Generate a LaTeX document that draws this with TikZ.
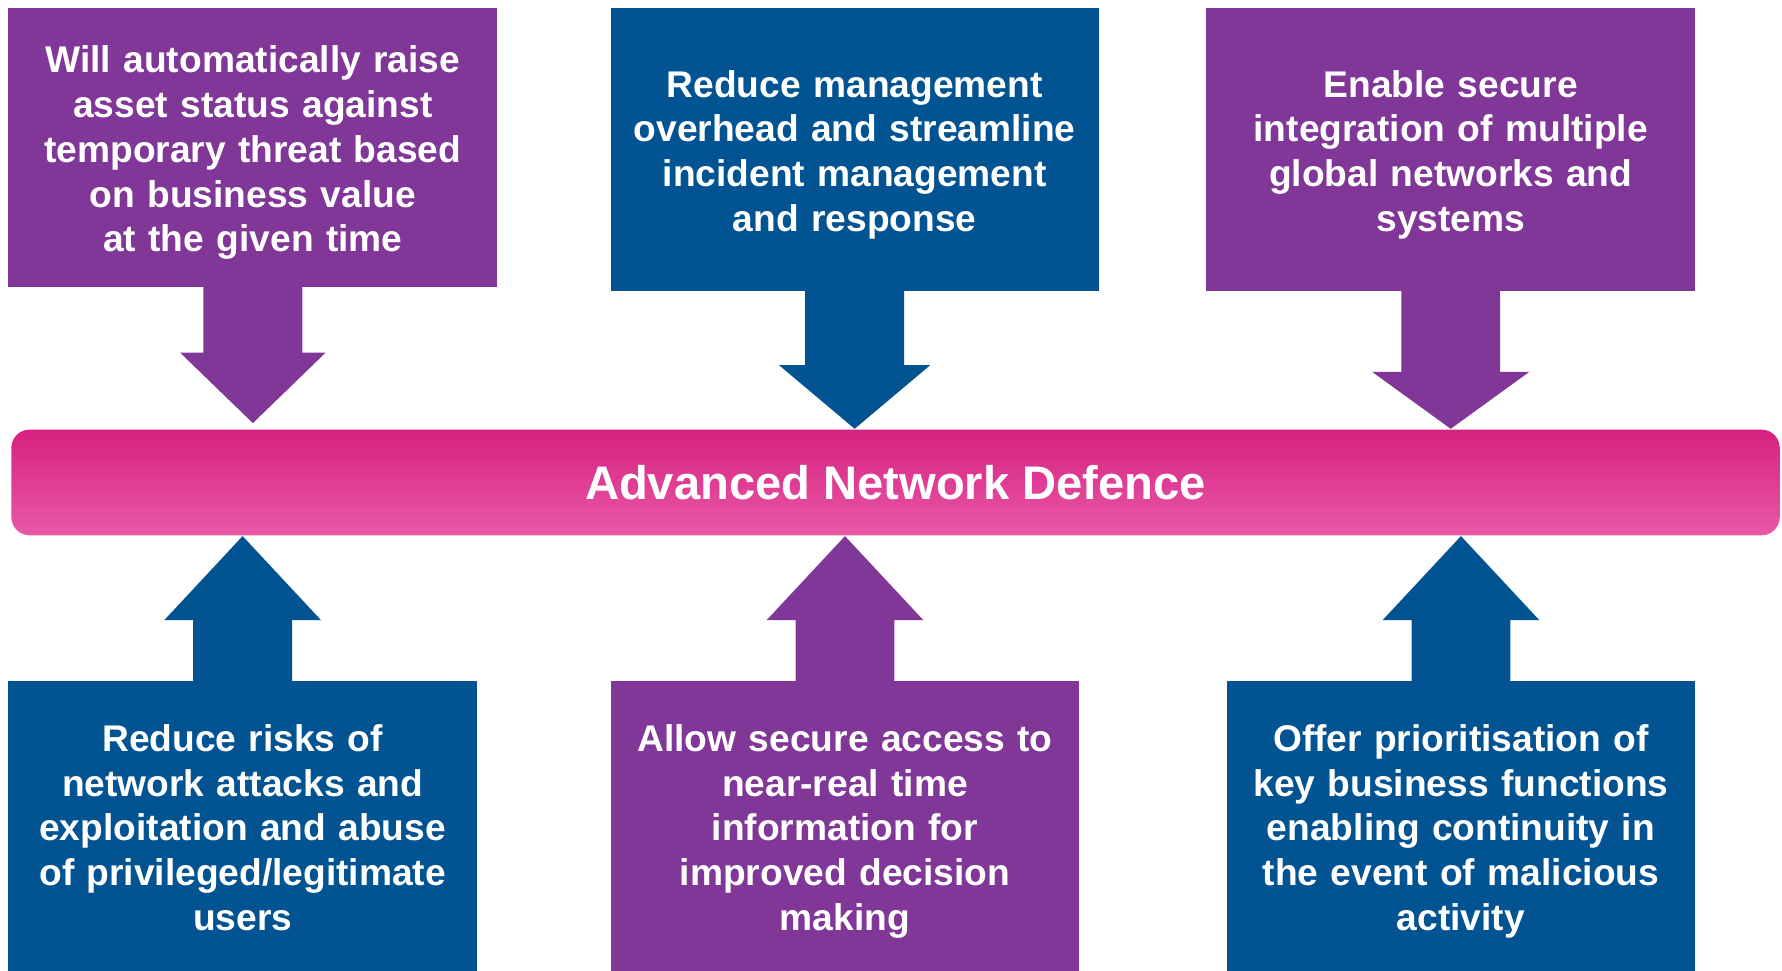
\documentclass[tikz,border=0pt]{standalone}
\usepackage{fontspec}
\setmainfont{Liberation Sans}
\usetikzlibrary{calc,positioning}

\definecolor{purp}{RGB}{128,55,152}
\definecolor{navy}{RGB}{2,83,146}
\definecolor{pinktop}{RGB}{214,33,128}
\definecolor{pinkbot}{RGB}{232,89,166}

\newcommand{\topstrut}{\rule{0pt}{10.7pt}}

% block arrow: colour, box, tip point, head length (signed), head half width
\newcommand{\blockarrow}[5]{%
  \fill[#1] let \p1=(#2), \p2=(#3) in
  ({\x1-0.435cm},{\y1}) -- ({\x1-0.435cm},{\y2+(#4)}) -- ({\x1-#5},{\y2+(#4)})
  -- ({\x1},{\y2}) -- ({\x1+#5},{\y2+(#4)}) -- ({\x1+0.435cm},{\y2+(#4)})
  -- ({\x1+0.435cm},{\y1}) -- cycle;}

\begin{document}
\begin{tikzpicture}
    \tikzstyle{box} = [text=white, align=center, inner sep=0pt,
    font=\bfseries\fontsize{9.3}{11.2}\selectfont]
    \tikzstyle{purpbox} = [box, fill=purp, draw=purp]
    \tikzstyle{navybox} = [box, fill=navy, draw=navy]

    \useasboundingbox (0,0) rectangle (15.68,-8.54);

    \node [purpbox, text width=4.29cm, minimum height=2.44cm] (asset) at (2.225,-1.30)
    {\topstrut Will automatically raise\\ asset status against\\ temporary threat based\\ on business value\\ at the given time\strut};
    \node [navybox, text width=4.28cm, minimum height=2.47cm] (overhead) at (7.52,-1.315)
    {\topstrut Reduce management\\ overhead and streamline\\ incident management\\ and response\strut};
    \node [purpbox, text width=4.29cm, minimum height=2.47cm] (integration) at (12.765,-1.315)
    {\topstrut Enable secure\\ integration of multiple\\ global networks and\\ systems\strut};

    \node [shade, top color=pinktop, bottom color=pinkbot, rounded corners=0.16cm,
    minimum width=15.56cm, minimum height=0.93cm, text=white,
    font=\bfseries\fontsize{11.8}{14}\selectfont] (defence) at (7.88,-4.245)
    {Advanced Network Defence};

    \node [navybox, text width=4.11cm, minimum height=2.54cm] (risks) at (2.135,-7.27)
    {\topstrut Reduce risks of\\ network attacks and\\ exploitation and abuse\\ of privileged/legitimate\\ users\strut};
    \node [purpbox, text width=4.11cm, minimum height=2.54cm] (access) at (7.435,-7.27)
    {\topstrut Allow secure access to\\ near-real time\\ information for\\ improved decision\\ making\strut};
    \node [navybox, text width=4.11cm, minimum height=2.54cm] (priority) at (12.855,-7.27)
    {\topstrut Offer prioritisation of\\ key business functions\\ enabling continuity in\\ the event of malicious\\ activity\strut};

    % arrows into the bar
    \blockarrow{purp}{asset.south}{$(defence.north)+(0,0.05)$}{0.62cm}{0.64cm}
    \blockarrow{navy}{overhead.south}{defence.north}{0.56cm}{0.665cm}
    \blockarrow{purp}{integration.south}{defence.north}{0.50cm}{0.69cm}
    \blockarrow{navy}{risks.north}{defence.south}{-0.74cm}{0.69cm}
    \blockarrow{purp}{access.north}{defence.south}{-0.74cm}{0.69cm}
    \blockarrow{navy}{priority.north}{defence.south}{-0.74cm}{0.69cm}
\end{tikzpicture}
\end{document}
